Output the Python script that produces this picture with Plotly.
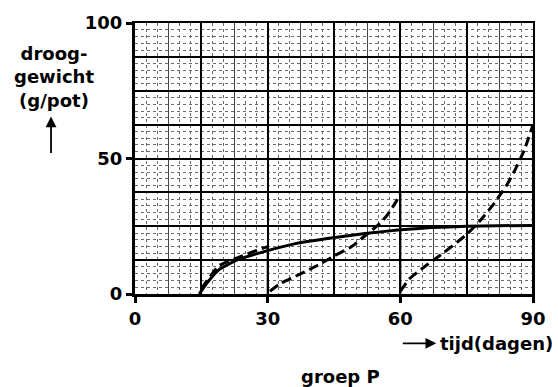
import plotly.graph_objects as go

# ---- data ----
solid_days = [14.5, 16.5, 19, 23, 30, 36, 43.5, 52, 60, 67, 75, 82, 90]
solid_weight = [0, 4.5, 9, 12.5, 16, 18.5, 20.5, 22.3, 23.7, 24.5, 25, 25.2, 25.3]

dash1_days = [15, 17, 19, 23.4, 28.7, 30]
dash1_weight = [2, 6.5, 10.5, 13.5, 16.8, 17.5]

dash2_days = [30.5, 33, 36, 40, 42, 45, 49, 52, 55, 57, 59, 60]
dash2_weight = [1, 4, 6.3, 9.5, 11.2, 14, 17.5, 21.5, 25.5, 29, 34, 37]

dash3_days = [60, 62, 65, 70, 75, 78, 81, 84, 86, 88, 90]
dash3_weight = [1, 5.5, 9.5, 15.5, 22, 27, 33, 40, 46, 53, 62.5]

x_ticks = [0, 30, 60, 90]
y_ticks = [0, 50, 100]

FONT = dict(family="DejaVu Sans", size=18, color="black", weight="bold")

fig = go.Figure()

# grid-only overlay subplots
fig.add_trace(go.Scatter(x=[None], y=[None], xaxis="x2", yaxis="y2",
                         showlegend=False, hoverinfo="skip"))
fig.add_trace(go.Scatter(x=[None], y=[None], xaxis="x3", yaxis="y2",
                         showlegend=False, hoverinfo="skip"))

DASH = "10px,5px"
fig.add_trace(go.Scatter(x=solid_days, y=solid_weight, mode="lines",
                         line=dict(color="black", width=3, shape="spline", smoothing=0.3),
                         showlegend=False))
for xs, ys in [(dash1_days, dash1_weight), (dash2_days, dash2_weight), (dash3_days, dash3_weight)]:
    fig.add_trace(go.Scatter(x=xs, y=ys, mode="lines",
                             line=dict(color="black", width=3, dash=DASH, shape="spline", smoothing=0.5),
                             showlegend=False))

# harvest drops (vertical lines at the end of each dashed curve)
hx, hy = [], []
for xs, ys in [(dash1_days, dash1_weight), (dash2_days, dash2_weight), (dash3_days, dash3_weight)]:
    hx += [xs[-1], xs[-1], None]
    hy += [ys[-1], 0, None]
fig.add_trace(go.Scatter(x=hx, y=hy, mode="lines", line=dict(color="black", width=2),
                         showlegend=False))

fig.update_layout(
    width=558, height=387,
    margin=dict(l=135, r=20, t=20, b=93),
    paper_bgcolor="white", plot_bgcolor="white",
    showlegend=False,
    xaxis=dict(range=[0, 90], tickvals=x_ticks, ticks="outside", ticklen=6, tickwidth=3,
               tickcolor="black", showline=True, linewidth=3, linecolor="black",
               showgrid=False, zeroline=False, tickfont=FONT,
               minor=dict(dtick=2.5, tick0=0, showgrid=True, gridcolor="#6a6a6a",
                          gridwidth=1, griddash="dot", ticks="")),
    yaxis=dict(range=[0, 100], tickvals=y_ticks, ticks="outside", ticklen=6, tickwidth=3,
               tickcolor="black", showline=True, linewidth=3, linecolor="black",
               showgrid=False, zeroline=False, tickfont=FONT,
               minor=dict(dtick=2.5, tick0=0, showgrid=True, gridcolor="#6a6a6a",
                          gridwidth=1, griddash="dot", ticks="")),
    xaxis2=dict(overlaying="x", anchor="y", side="top", range=[0, 90], dtick=7.5, tick0=0,
                showgrid=True, gridcolor="#444444", gridwidth=1, showticklabels=False,
                ticks="", showline=True, linewidth=1.5, linecolor="black", zeroline=False),
    xaxis3=dict(overlaying="x", anchor="y", range=[0, 90], dtick=15, tick0=0,
                showgrid=True, gridcolor="black", gridwidth=1.5, showticklabels=False,
                ticks="", showline=False, zeroline=False),
    yaxis2=dict(overlaying="y", anchor="x", side="right", range=[0, 100], dtick=12.5, tick0=0,
                showgrid=True, gridcolor="black", gridwidth=1.5, showticklabels=False,
                ticks="", showline=True, linewidth=1.5, linecolor="black", zeroline=False),
)

# text annotations
fig.add_annotation(text="droog-<br>gewicht<br>(g/pot)", xref="paper", yref="paper",
                   x=-0.2035, y=0.80, xanchor="center", yanchor="middle",
                   showarrow=False, font=FONT, align="center")
fig.add_annotation(text="", xref="paper", yref="paper", x=-0.211, y=0.655,
                   ax=0, ay=38, showarrow=True, arrowhead=2, arrowsize=1.2,
                   arrowwidth=1.8, arrowcolor="black")
fig.add_annotation(text="tijd(dagen)", xref="paper", yref="paper", x=0.762, y=-0.182,
                   xanchor="left", yanchor="middle", showarrow=False, font=FONT)
fig.add_annotation(text="", xref="paper", yref="paper", x=0.757, y=-0.182,
                   ax=-35, ay=0, showarrow=True, arrowhead=2, arrowsize=1.2,
                   arrowwidth=1.8, arrowcolor="black")
fig.add_annotation(text="groep P", xref="paper", yref="paper", x=0.516, y=-0.303,
                   xanchor="center", yanchor="middle", showarrow=False, font=FONT)

fig.write_html("out.html", config={"displayModeBar": False},
               post_script="document.body.style.margin='0';document.body.style.overflow='hidden';")
